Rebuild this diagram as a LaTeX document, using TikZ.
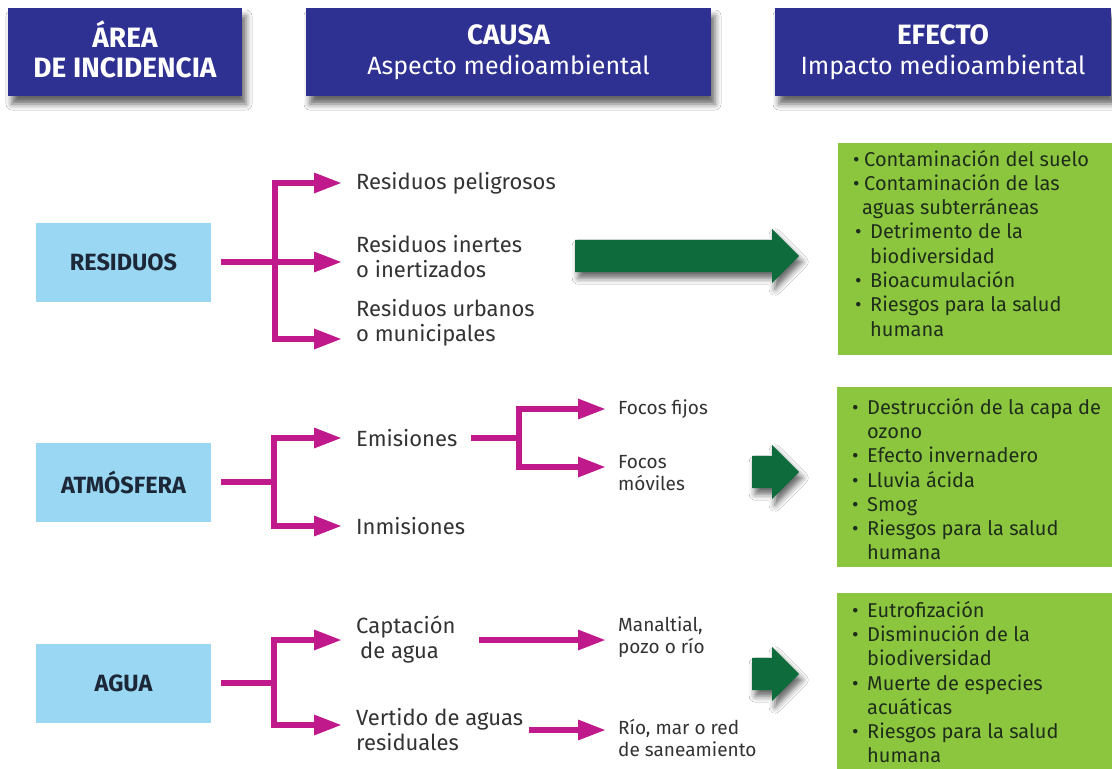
\documentclass[tikz,border=0pt]{standalone}
\usepackage{fontspec}
\setmainfont{Fira Sans}
\usetikzlibrary{arrows.meta,shapes.arrows,shadows.blur}

\definecolor{headblue}{HTML}{2E3192}
\definecolor{areablue}{HTML}{9AD7F2}
\definecolor{linkpink}{HTML}{C0198C}
\definecolor{arrowgreen}{HTML}{0E6B3B}
\definecolor{effgreen}{HTML}{8CC63F}
\definecolor{efftext}{HTML}{1F2E1A}
\definecolor{causetext}{HTML}{333333}
\definecolor{areatext}{HTML}{1C2838}

\newcommand{\itm}{\makebox[15pt][l]{•}}
\newcommand{\itmn}{\makebox[11pt][l]{•}}
\newcommand{\ind}{\hspace*{15pt}}
\newcommand{\hbig}{\bfseries\fontsize{28}{30}\selectfont}

\tikzset{
  header/.style={fill=headblue, text=white, inner sep=0pt, minimum height=88pt, align=center,
    blur shadow={shadow xshift=4pt, shadow yshift=-8pt, shadow blur radius=6pt, shadow opacity=60},
    font=\fontsize{25}{30}\selectfont},
  headtxt/.style={text=white, inner sep=0pt, align=center, font=\fontsize{25}{30}\selectfont},
  area/.style={fill=areablue, text=areatext, minimum width=175pt, minimum height=79pt,
    font=\bfseries\fontsize{23.5}{26}\selectfont},
  cause/.style={anchor=west, align=left, inner xsep=14pt, inner ysep=2pt, text=causetext,
    font=\fontsize{22}{25}\selectfont},
  sub/.style={anchor=west, align=left, inner xsep=12pt, inner ysep=2pt, text=causetext,
    font=\fontsize{19}{22}\selectfont},
  link/.style={draw=linkpink, line width=6pt},
  tip/.style={-{Triangle[length=28pt,width=19pt]}},
  effect/.style={fill=effgreen, anchor=north west, minimum width=280pt, inner sep=0pt},
  efftxt/.style={anchor=west, align=left, inner sep=0pt, text=efftext,
    font=\fontsize{20}{24.3}\selectfont},
  bigarrow/.style={single arrow, anchor=tail, fill=arrowgreen, inner sep=0pt, single arrow head extend=11pt,
    blur shadow={shadow xshift=3pt, shadow yshift=-6pt, shadow blur radius=6pt, shadow opacity=60}}
}

\begin{document}
\begin{tikzpicture}[x=1pt,y=-1pt]
\fill[white] (0,0) rectangle (1112,769);
\useasboundingbox (0,0) rectangle (1112,769);

% column headers
\node[header, minimum width=234pt] (harea) at (125,52) {};
\node[headtxt] (hareatxt) at ([yshift=3pt]harea.center) {{\hbig ÁREA}\\{\hbig DE INCIDENCIA}};
\node[header, minimum width=405pt] (hcausa) at (508.5,52) {{\hbig CAUSA}\\Aspecto medioambiental};
\node[header, minimum width=336pt] (hefecto) at (943,52) {{\hbig EFECTO}\\Impacto medioambiental};

% residuos
\node[area] (res) at (123.5,262) {RESIDUOS};
\coordinate (resj) at (275,262);
\node[cause] (r1) at (342,183) {Residuos peligrosos};
\node[cause] (r2) at (342,257) {Residuos inertes\\o inertizados};
\node[cause] (r3) at (342,323) {Residuos urbanos\\o municipales};
\draw[link] ([xshift=10pt]res.east) -- (resj);
\draw[link,tip] (resj) |- (r1);
\draw[link,tip] (resj) |- ([yshift=-5pt]r2.west);
\draw[link,tip] (resj) |- ([yshift=-16pt]r3.west);

% atmosfera
\node[area] (atm) at (123.5,482) {ATMÓSFERA};
\coordinate (atmj) at (274,482);
\node[cause] (emi) at (342,438) {Emisiones};
\node[cause] (inm) at (342,526) {Inmisiones};
\coordinate (emij) at (519,438);
\node[sub] (ff) at (606,409) {Focos fijos};
\node[sub] (fm) at (606,473) {Focos\\móviles};
\draw[link] ([xshift=10pt]atm.east) -- (atmj);
\draw[link,tip] (atmj) |- (emi);
\draw[link,tip] (atmj) |- (inm);
\draw[link] (emi.east) -- (emij);
\draw[link,tip] (emij) |- (ff);
\draw[link,tip] (emij) |- ([yshift=6pt]fm.west);

% agua
\node[area] (agu) at (123.5,683) {AGUA};
\coordinate (aguj) at (274,683);
\node[cause] (cap) at (342,640) {Captación\\\hspace*{4pt}de agua};
\node[cause] (ver) at (342,730) {Vertido de aguas\\residuales};
\node[sub] (man) at (606,637.5) {Manaltial,\\pozo o río};
\node[sub] (rio) at (606,737.5) {Río, mar o red\\de saneamiento};
\draw[link] ([xshift=10pt]agu.east) -- (aguj);
\draw[link,tip] (aguj) |- (cap);
\draw[link,tip] (aguj) |- ([yshift=5pt]ver.west);
\draw[link,tip] ([xshift=9pt]cap.east) -- (cap.east -| man.west);
\draw[link,tip] ([xshift=-8pt]ver.east) -- (ver.east -| rio.west);

% efectos
\node[bigarrow, minimum height=224pt] (ga1) at (575,256) {\rule{0pt}{32pt}};
\node[bigarrow, minimum height=47pt] (ga2) at (752,472) {\rule{0pt}{32pt}};
\node[bigarrow, minimum height=47pt] (ga3) at (752,674) {\rule{0pt}{32pt}};

\node[effect, minimum height=212pt] (g1) at (838,143) {};
\node[effect, minimum height=180pt] (g2) at (837,387) {};
\node[effect, minimum height=176pt] (g3) at (837,593) {};

\node[efftxt] (t1) at ([xshift=15pt,yshift=6pt]g1.west)
  {\itmn Contaminación del suelo\\
   \itmn Contaminación de las\\
   \hspace*{9pt}aguas subterráneas\\
   \hspace*{2pt}\itm Detrimento de la\\
   \hspace*{2pt}\ind biodiversidad\\
   \hspace*{2pt}\itm Bioacumulación\\
   \hspace*{2pt}\itm Riesgos para la salud\\
   \hspace*{2pt}\ind humana};
\node[efftxt] (t2) at ([xshift=15pt,yshift=-2pt]g2.west)
  {\itm Destrucción de la capa de\\
   \ind ozono\\
   \itm Efecto invernadero\\
   \itm Lluvia ácida\\
   \itm Smog\\
   \itm Riesgos para la salud\\
   \ind humana};
\node[efftxt] (t3) at ([xshift=15pt,yshift=-1pt]g3.west)
  {\itm Eutrofización\\
   \itm Disminución de la\\
   \ind biodiversidad\\
   \itm Muerte de especies\\
   \ind acuáticas\\
   \itm Riesgos para la salud\\
   \ind humana};
\end{tikzpicture}
\end{document}
